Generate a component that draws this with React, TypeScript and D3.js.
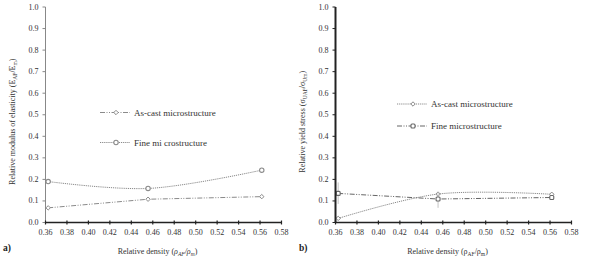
import React from "react";
import * as d3 from "d3";

const xTicks = [0.36, 0.38, 0.4, 0.42, 0.44, 0.46, 0.48, 0.5, 0.52, 0.54, 0.56, 0.58];
const yTicks = [0, 0.1, 0.2, 0.3, 0.4, 0.5, 0.6, 0.7, 0.8, 0.9, 1.0];
const densities = [0.3625, 0.4556, 0.5616];

// chart a) relative modulus of elasticity
const aAsCast = [0.068, 0.108, 0.12];
const aFine = [0.19, 0.158, 0.243];

// chart b) relative yield stress
const bAsCast = [0.019, 0.132, 0.131];
const bFine = [0.135, 0.109, 0.116];
const bFineErrLow = [0.086, 0.068, 0.108];
const bFineErrHigh = [0.186, 0.14, 0.124];

const FONT = "Liberation Serif, Times New Roman, serif";
const GRAY = "#8a8a8a";
const DASHDOTDOT = "5,1.5,1,1.5,1,1.5";
const DOTTED = "1.2,0.9";

type MarkerKind = "diamond" | "square" | "circle";

function Marker({ x, y, kind, color }: { x: number; y: number; kind: MarkerKind; color: string }) {
  if (kind === "diamond") {
    const s = 2.2;
    return (
      <path
        d={`M${x},${y - s}L${x + s},${y}L${x},${y + s}L${x - s},${y}Z`}
        fill="#fff"
        stroke={color}
        strokeWidth={1}
      />
    );
  }
  if (kind === "circle") {
    return <circle cx={x} cy={y} r={2.2} fill="#fff" stroke={color} strokeWidth={1.1} />;
  }
  return <rect x={x - 2} y={y - 2} width={4} height={4} rx={1} fill="#fff" stroke={color} strokeWidth={1.1} />;
}

type Series = {
  name: string;
  values: number[];
  dash: string;
  smooth: boolean;
  marker: MarkerKind;
  color: string;
  errLow?: number[];
  errHigh?: number[];
};

function Panel({
  ox,
  series,
  yTitle,
  xTitle,
  label,
  labelX,
  legendY,
  legendX,
  heavyY,
}: {
  ox: number;
  series: Series[];
  yTitle: React.ReactNode;
  xTitle: React.ReactNode;
  label: string;
  labelX: number;
  legendY: number[];
  legendX: number;
  heavyY: boolean;
}) {
  const x = d3.scaleLinear().domain([0.36, 0.58]).range([ox, ox + 236]);
  const y = d3.scaleLinear().domain([0, 1]).range([222.5, 7]);
  const x0 = x(0.36);
  const y0 = y(0);
  return (
    <g>
      {/* series */}
      {series.map((s, i) => {
        const gen = d3
          .line<number>()
          .x((_, j) => x(densities[j]))
          .y((v) => y(v))
          .curve(s.smooth ? d3.curveCatmullRom.alpha(0.5) : d3.curveLinear);
        return (
          <g key={i}>
            {s.errLow &&
              s.errHigh &&
              densities.map((d, j) => (
                <line
                  key={j}
                  x1={x(d)}
                  x2={x(d)}
                  y1={y(s.errLow![j])}
                  y2={y(s.errHigh![j])}
                  stroke="#c4c4c4"
                  strokeWidth={1}
                />
              ))}
            <path d={gen(s.values) || ""} fill="none" stroke={s.color} strokeWidth={1} strokeDasharray={s.dash} />
            {s.values.map((v, j) => (
              <Marker key={j} x={x(densities[j])} y={y(v)} kind={s.marker} color={s.color} />
            ))}
          </g>
        );
      })}
      {/* y axis */}
      <line x1={x0} x2={x0} y1={y(1)} y2={y0} stroke={heavyY ? "#222" : "#888"} strokeWidth={heavyY ? 2 : 1} />
      {yTicks.map((t) => (
        <g key={t}>
          <line x1={x0 - 3} x2={x0} y1={y(t)} y2={y(t)} stroke={heavyY ? "#222" : "#888"} strokeWidth={1} />
          <text
            x={x0 - 7}
            y={y(t)}
            textAnchor="end"
            dominantBaseline="central"
            fontFamily={FONT}
            fontSize={8}
            fill="#333"
          >
            {d3.format(".1f")(t)}
          </text>
        </g>
      ))}
      {/* x axis */}
      <line x1={x0} x2={x(0.58)} y1={y0} y2={y0} stroke="#222" strokeWidth={1.6} />
      {xTicks.map((t) => (
        <g key={t}>
          <line x1={x(t)} x2={x(t)} y1={y0 - 2} y2={y0 + 2} stroke="#222" strokeWidth={1.2} />
          <text x={x(t)} y={y0 + 12} textAnchor="middle" fontFamily={FONT} fontSize={8} fill="#333">
            {d3.format(".2f")(t)}
          </text>
        </g>
      ))}
      {/* axis titles */}
      <text
        transform={`translate(${ox - 31},${y(0.5) + 7}) rotate(-90)`}
        textAnchor="middle"
        fontFamily={FONT}
        fontSize={8}
        fill="#333"
      >
        {yTitle}
      </text>
      <text x={ox + 112} y={254} textAnchor="middle" fontFamily={FONT} fontSize={8} fill="#333">
        {xTitle}
      </text>
      <text x={labelX} y={251} fontFamily={FONT} fontSize={9.5} fontWeight="bold" fill="#222">
        {label}
      </text>
      {/* legend */}
      {series.map((s, i) => (
        <g key={i}>
          <line
            x1={legendX}
            x2={legendX + 30}
            y1={legendY[i]}
            y2={legendY[i]}
            stroke={s.color}
            strokeWidth={1}
            strokeDasharray={s.dash}
          />
          <Marker x={legendX + 16} y={legendY[i]} kind={s.marker} color={s.color} />
          <text
            x={legendX + 34}
            y={legendY[i]}
            dominantBaseline="central"
            fontFamily={FONT}
            fontSize={9}
            fill="#333"
          >
            {s.name}
          </text>
        </g>
      ))}
    </g>
  );
}

export default function App() {
  const seriesA: Series[] = [
    { name: "As-cast microstructure", values: aAsCast, dash: DASHDOTDOT, smooth: false, marker: "diamond", color: GRAY },
    { name: "Fine mi crostructure", values: aFine, dash: DOTTED, smooth: true, marker: "circle", color: GRAY },
  ];
  const seriesB: Series[] = [
    { name: "As-cast microstructure", values: bAsCast, dash: DOTTED, smooth: true, marker: "diamond", color: GRAY },
    {
      name: "Fine microstructure",
      values: bFine,
      dash: DASHDOTDOT,
      smooth: false,
      marker: "square",
      color: "#666",
      errLow: bFineErrLow,
      errHigh: bFineErrHigh,
    },
  ];
  return (
    <svg width={589} height={263} style={{ position: "absolute", left: 0, top: 0, background: "#fff" }}>
      <rect width={589} height={263} fill="#fff" />
      <Panel
        ox={45.5}
        series={seriesA}
        legendX={100}
        legendY={[112.5, 142.5]}
        heavyY={false}
        label="a)"
        labelX={3}
        yTitle={
          <>
            Relative modulus of elasticity (E
            <tspan fontSize={5.5} dy={2}>AF</tspan>
            <tspan dy={-2}>/E</tspan>
            <tspan fontSize={5.5} dy={2}>m</tspan>
            <tspan dy={-2}>)</tspan>
          </>
        }
        xTitle={
          <>
            Relative density (<tspan fontStyle="italic">ρ</tspan>
            <tspan fontSize={5.5} dy={2} fontStyle="italic">AF</tspan>
            <tspan dy={-2} fontStyle="italic">/ρ</tspan>
            <tspan fontSize={5.5} dy={2} fontStyle="italic">m</tspan>
            <tspan dy={-2}>)</tspan>
          </>
        }
      />
      <Panel
        ox={335.5}
        series={seriesB}
        legendX={397}
        legendY={[104, 126]}
        heavyY={true}
        label="b)"
        labelX={299}
        yTitle={
          <>
            Relative yield stress (σ
            <tspan fontSize={5.5} dy={2}>UAF</tspan>
            <tspan dy={-2}>/σ</tspan>
            <tspan fontSize={5.5} dy={2}>Um</tspan>
            <tspan dy={-2}>)</tspan>
          </>
        }
        xTitle={
          <>
            Relative density (ρ
            <tspan fontSize={5.5} dy={2}>AF</tspan>
            <tspan dy={-2}>/ρ</tspan>
            <tspan fontSize={5.5} dy={2}>m</tspan>
            <tspan dy={-2}>)</tspan>
          </>
        }
      />
    </svg>
  );
}
